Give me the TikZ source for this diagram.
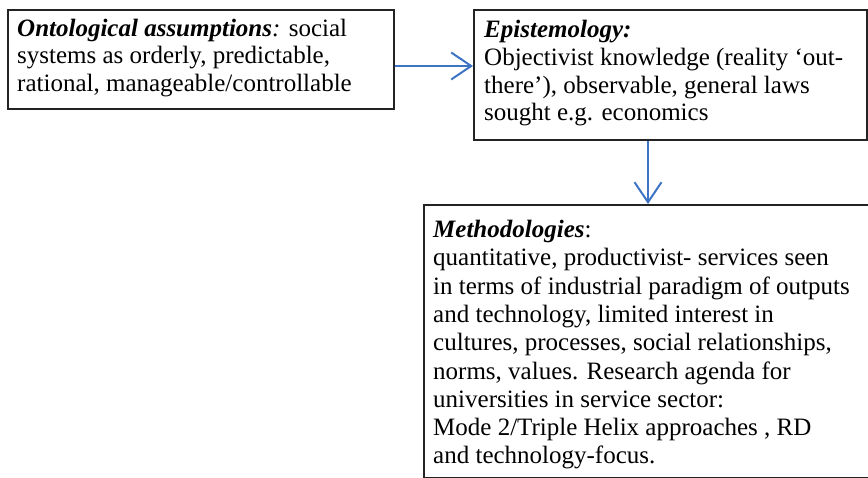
\documentclass[tikz,border=0pt]{standalone}
\usepackage{fontspec}
\setmainfont{Liberation Serif}
\usetikzlibrary{arrows.meta}
\definecolor{arrowblue}{RGB}{62,116,196}
\definecolor{boxline}{RGB}{35,35,35}
\tikzset{
  box/.style={draw=boxline, line width=2.4pt, fill=none, inner sep=0pt, anchor=north west},
  boxtext/.style={inner sep=0pt, anchor=north west, align=left},
  link/.style={draw=arrowblue, line width=2pt, -{Straight Barb[length=20pt,width=27pt,line width=2pt]}}
}
\begin{document}
\begin{tikzpicture}[x=1pt,y=-1pt]
\useasboundingbox (0,0) rectangle (868,478);
\clip (0,0) rectangle (868,478);
\node[box, minimum width=386pt, minimum height=99pt] (onto) at (7,9) {};
\node[box, minimum width=393pt, minimum height=130pt] (epis) at (473,9) {};
\node[box, minimum width=460pt, minimum height=273pt] (meth) at (423,204) {};
\node[boxtext, font=\fontsize{25}{27.3}\selectfont] (ontotext) at (17,19) {\textbf{\textit{Ontological assumptions}}\textit{:} social\\systems as orderly, predictable,\\rational, manageable/controllable};
\node[boxtext, font=\fontsize{25}{27.8}\selectfont] (epistext) at (484,20) {\textbf{\textit{Epistemology:}}\\Objectivist knowledge (reality ‘out-\\there’), observable, general laws\\sought e.g. economics};
\node[boxtext, font=\fontsize{25}{28.3}\selectfont] (methtext) at (433,220) {\textbf{\textit{Methodologies}}:\\quantitative, productivist- services seen\\in terms of industrial paradigm of outputs\\and technology, limited interest in\\cultures, processes, social relationships,\\norms, values. Research agenda for\\universities in service sector:\\Mode 2/Triple Helix approaches , RD\\and technology-focus.};
\draw[link] (onto.east |- 0,66) -- (epis.west |- 0,66);
\draw[link] (epis.south -| 648,0) -- (meth.north -| 648,0);
\end{tikzpicture}
\end{document}
